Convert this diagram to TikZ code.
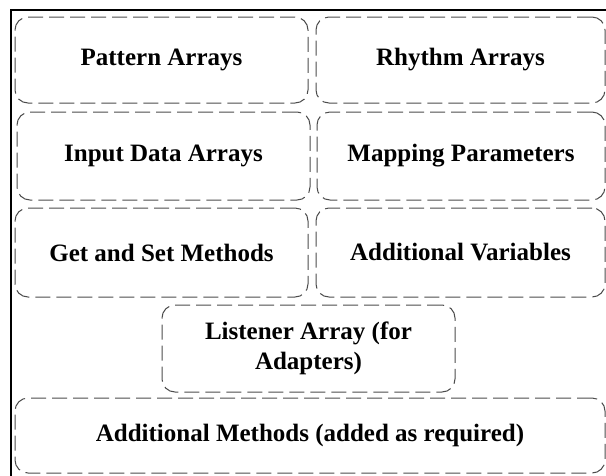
\documentclass[tikz,border=0pt]{standalone}
\usepackage{fontspec}
\setmainfont{Liberation Serif}
\begin{document}
\begin{tikzpicture}[x=1pt,y=-1pt,
  part/.style={draw=black!70, line width=1pt, dash pattern=on 15pt off 6pt,
    rounded corners=13pt, outer sep=0pt, inner sep=2pt, align=center,
    font=\fontsize{25}{30}\selectfont\bfseries}]
\useasboundingbox (0,0) rectangle (606,475);
\clip (0,0) rectangle (606,475);
\draw[line width=2.2pt, black] (11,10) rectangle (640,500);
\node[part, minimum width=293pt, minimum height=86pt] (pa) at (161.5,60) {Pattern Arrays};
\node[part, minimum width=289pt, minimum height=86pt] (ra) at (460.5,60) {Rhythm Arrays};
\node[part, minimum width=293pt, minimum height=88pt] (id) at (163.5,156) {Input Data Arrays};
\node[part, minimum width=288pt, minimum height=88pt] (mp) at (461,156) {Mapping Parameters};
\node[part, minimum width=293pt, minimum height=89pt] (gs) at (161.5,252.5) {Get and Set Methods};
\node[part, minimum width=289pt, minimum height=89pt] (av) at (460.5,252.5) {Additional Variables};
\node[part, minimum width=293pt, minimum height=87pt] (la) at (308.5,348.5) {Listener Array (for\\Adapters)};
\node[part, minimum width=590pt, minimum height=75pt] (am) at (310,435.5) {Additional Methods (added as required)};
\end{tikzpicture}
\end{document}
